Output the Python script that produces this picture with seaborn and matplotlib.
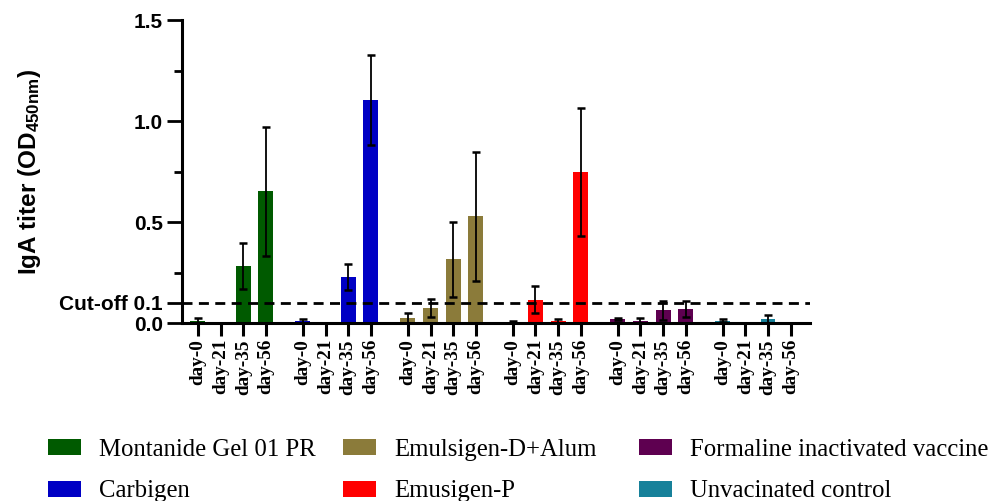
import numpy as np
import pandas as pd
import matplotlib
matplotlib.use("Agg")
import matplotlib.pyplot as plt
import seaborn as sns
from matplotlib.patches import Patch
from matplotlib.ticker import FixedLocator

# ---------------- data ----------------
groups = ["Montanide Gel 01 PR", "Carbigen", "Emulsigen-D+Alum",
          "Emusigen-P", "Formaline inactivated vaccine", "Unvacinated control"]
days = ["day-0", "day-21", "day-35", "day-56"]
colors = ["#005a00", "#0000c4", "#8b7b3a", "#ff0000", "#5e0050", "#17819a"]

montanide = [0.011, 0.002, 0.284, 0.653]
montanide_sd = [0.012, 0.0, 0.115, 0.32]
carbigen = [0.011, 0.0, 0.228, 1.104]
carbigen_sd = [0.009, 0.0, 0.064, 0.223]
emulsigen_d = [0.023, 0.076, 0.315, 0.528]
emulsigen_d_sd = [0.025, 0.044, 0.186, 0.32]
emusigen_p = [0.003, 0.117, 0.011, 0.748]
emusigen_p_sd = [0.008, 0.067, 0.009, 0.318]
formaline = [0.021, 0.011, 0.064, 0.069]
formaline_sd = [0.005, 0.014, 0.046, 0.041]
control = [0.013, 0.0, 0.021, 0.0]
control_sd = [0.007, 0.0, 0.019, 0.0]

means = [montanide, carbigen, emulsigen_d, emusigen_p, formaline, control]
sds = [montanide_sd, carbigen_sd, emulsigen_d_sd, emusigen_p_sd, formaline_sd, control_sd]
cutoff = 0.1

# ---------------- layout ----------------
group_step = 4.63
rows = []
for gi, g in enumerate(groups):
    for di, d in enumerate(days):
        rows.append({"group": g, "day": d, "pos": gi * group_step + di,
                     "value": means[gi][di], "sd": sds[gi][di]})
df = pd.DataFrame(rows)

sns.set_style("ticks")
plt.rcParams.update({
    "text.color": "black", "axes.labelcolor": "black",
    "xtick.color": "black", "ytick.color": "black", "axes.edgecolor": "black",
    "mathtext.fontset": "custom",
    "mathtext.rm": "Liberation Sans:bold",
    "mathtext.bf": "Liberation Sans:bold",
    "mathtext.it": "Liberation Sans:bold",
})

fig = plt.figure(figsize=(9.95, 5.01), dpi=100)
ax = fig.add_axes([0.183, 0.355, 0.631, 0.605])

sns.barplot(data=df, x="pos", y="value", hue="group", palette=colors,
            hue_order=groups, native_scale=True, dodge=False, width=0.66,
            errorbar=None, legend=False, ax=ax, linewidth=0, saturation=1)

ax.errorbar(df["pos"], df["value"], yerr=df["sd"], fmt="none",
            ecolor="black", elinewidth=1.3, capsize=3, capthick=1.8, zorder=5)

ax.axhline(cutoff, color="black", lw=2.0, ls=(0, (3.6, 2.3)), zorder=6)

# axes styling
ax.set_ylim(0, 1.5)
ax.set_xlim(df["pos"].min() - 0.7, df["pos"].max() + 0.85)
sns.despine(ax=ax)
for s in ["left", "bottom"]:
    ax.spines[s].set_linewidth(2.2)

ax.set_yticks([0.0, cutoff, 0.5, 1.0, 1.5])
ax.set_yticklabels(["0.0", "Cut-off 0.1", "0.5", "1.0", "1.5"],
                   fontfamily="Liberation Sans", fontweight="bold", fontsize=15)
ax.yaxis.set_minor_locator(FixedLocator([0.25, 0.75, 1.25]))
ax.tick_params(axis="y", which="major", length=11, width=2.0, pad=3)
ax.tick_params(axis="y", which="minor", length=6, width=2.0)

ax.set_xticks(df["pos"])
ax.set_xticklabels(df["day"], rotation=90, fontfamily="Liberation Serif",
                   fontweight="bold", fontsize=13.8)
ax.tick_params(axis="x", which="major", length=9.5, width=2.2, pad=2)

ax.set_xlabel("")
ax.set_ylabel(r"IgA titer (OD$_{450nm}$)", fontfamily="Liberation Sans",
              fontweight="bold", fontsize=17.5)
ax.yaxis.set_label_coords(-0.222, 0.5)

# legend: three columns of two entries
col_x = [0.048, 0.3447, 0.642]
for c in range(3):
    idx = [c * 2, c * 2 + 1]
    handles = [Patch(facecolor=colors[i], edgecolor="none") for i in idx]
    labels = [groups[i] for i in idx]
    fig.legend(handles, labels, loc="upper left", bbox_to_anchor=(col_x[c], 0.124),
               frameon=False, borderpad=0, borderaxespad=0,
               prop={"family": "Liberation Serif", "size": 17.8},
               handlelength=1.33, handleheight=0.64, handletextpad=0.76,
               labelspacing=0.79)

fig.savefig("out.png", dpi=100)
